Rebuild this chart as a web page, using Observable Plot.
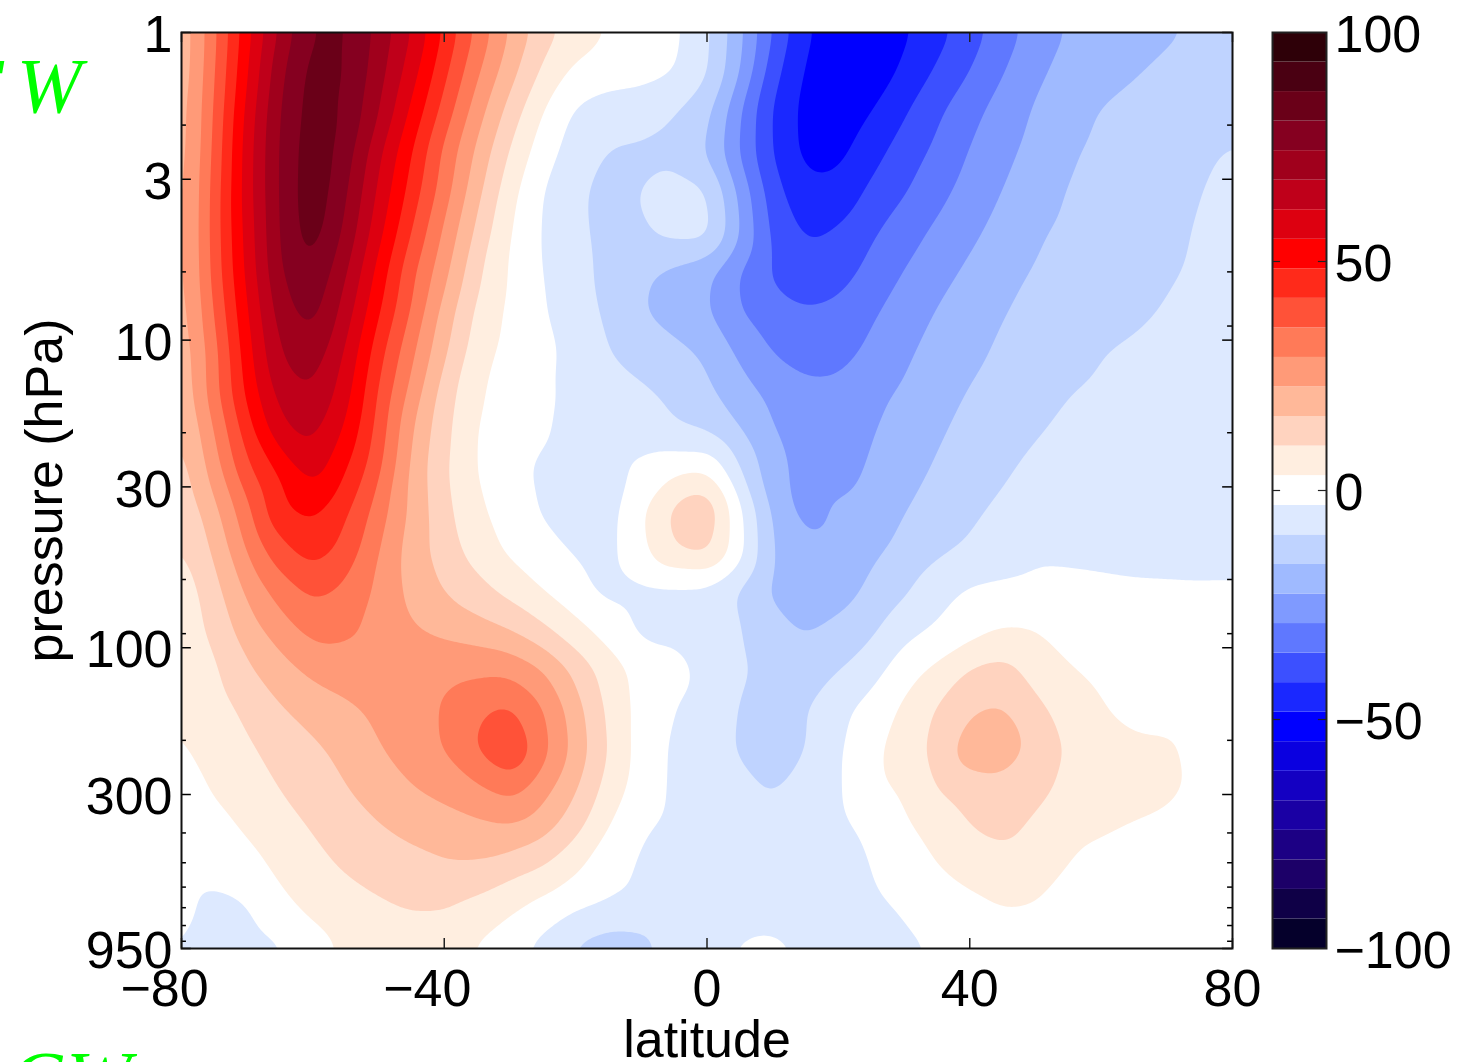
<!DOCTYPE html>
<html>
<head>
<meta charset="utf-8">
<script src="https://cdn.jsdelivr.net/npm/d3@7"></script>
<script src="https://cdn.jsdelivr.net/npm/@observablehq/plot@0.6"></script>
<style>
html,body{margin:0;padding:0;background:#fff;overflow:hidden}
#wrap{position:relative;width:1472px;height:1062px;overflow:hidden}
#wrap svg{position:absolute;top:0;background:transparent;overflow:hidden}
.gw{position:absolute;color:#00ff00;font:italic 78px "Liberation Serif",serif;white-space:nowrap;line-height:1}
</style>
</head>
<body>
<div id="wrap"></div>
<script>
// rows run from 1 hPa to 950 hPa evenly in log pressure; columns from 80S to 80N every 5 degrees
const r00=[17,34,52.7,69.2,81.5,81.7,72.4,61.7,47.3,34,22,12.6,6.9,2.8,1,-1.8,-7.9,-20.7,-36,-47.2,-53,-53.5,-49.5,-44.5,-38.5,-32.3,-26.3,-22,-20.3,-18.6,-16.9,-15.5,-14];
const r01=[17,35,54.5,73,83.5,81.2,70.8,58,43.6,30,18.6,8.3,1.5,-0.5,-1,-2.8,-8.3,-22.1,-39.6,-49.3,-54,-53.3,-46.8,-41,-35.5,-29.4,-23.6,-20.8,-18.7,-16.5,-15,-14,-13.5];
const r02=[18,36,57,75,84,80,68.3,53.5,39.3,25.4,13.5,3,-4.5,-6.5,-7,-9.5,-14,-28.5,-43,-50.5,-53.5,-48.3,-42.6,-36.6,-31,-26.3,-21.8,-18.6,-15.6,-14.5,-13.5,-12.5,-11];
const r03=[18,37,58.3,75.7,85,78,62.8,48.7,33.9,21.2,8.9,-0.3,-6.4,-10.3,-10.7,-10.7,-16.3,-29.6,-42.6,-50.5,-50.5,-44.3,-39,-34,-28.6,-24.3,-20.5,-16.8,-14.9,-13.4,-11.8,-10.4,-9.3];
const r04=[18.5,38,58.5,75.7,85.5,75.5,60,45.8,32,18,5.4,-3.4,-8.7,-11.5,-9.5,-7,-8,-24,-39.5,-47,-46.5,-40.4,-36,-31,-26.5,-22.4,-18.8,-15.7,-14.3,-12.8,-11.3,-9.8,-8.5];
const r05=[18.7,38.3,57.5,75.5,84.5,73,57,41.8,28,14.5,3.4,-3.8,-8.8,-11,-10.5,-7.5,-6.5,-22.4,-37.6,-43,-41.5,-36.5,-32,-27.7,-24,-20.3,-16.8,-15,-13.6,-12.2,-10.8,-9.3,-8];
const r06=[18.5,37.8,56.6,74.5,80.5,69,52.5,37,24.6,10.8,2.4,-3.3,-8.4,-10.8,-15,-18,-21,-29.6,-36.5,-40,-38.5,-33.5,-28.8,-25,-21.4,-18.1,-15.6,-14.2,-12.8,-11.4,-10.3,-9,-7.8];
const r07=[18,35.7,54.6,71.5,77.5,65,49,35,20,7.9,1.8,-2.7,-7,-10.7,-16,-19,-21.9,-29.1,-33,-35,-34,-30,-26.3,-22.2,-19.3,-16.3,-14.8,-13.4,-12.1,-10.7,-9.3,-8,-7];
const r08=[17.3,33,52.6,68.5,72.5,61,44.5,30.7,17.2,5.9,1.2,-1,-5.7,-9.7,-12.5,-14.5,-17.3,-24.1,-29.6,-32,-31.5,-27.7,-23.7,-20.5,-17.6,-15.2,-13.8,-11.9,-9.8,-9,-8.3,-7.5,-6.6];
const r09=[16.5,33,50.4,64.5,68,58,41.3,27.2,13,3.9,0.6,-2.3,-4.5,-6.7,-8.8,-11,-14.9,-20.3,-24.5,-27.5,-27.5,-24,-21.9,-18.7,-15.8,-13.8,-11.8,-9.8,-8.8,-8,-7.5,-6.8,-6.2];
const r10=[14.5,29,45.6,60,63.5,54,39.5,22.9,11.5,2.6,0.1,-2.7,-4.9,-6,-7.4,-8.8,-9.9,-16,-22.6,-25.5,-26,-23,-20.3,-16.9,-14.4,-12.4,-10,-8.8,-8,-7.2,-6.6,-6.2,-5.8];
const r11=[12.5,25.4,41,49.5,58.5,48.7,37,21,10.4,2.8,-1.4,-4.5,-5,-6,-1.5,2,3.5,-9.6,-20.5,-24.8,-25.8,-21.5,-18.4,-15.4,-12.9,-10.2,-8.5,-7.6,-7,-6.4,-6,-5.7,-5.4];
const r12=[10.7,20.6,34,48,50.5,43.3,32.6,21,11.5,4.5,-0.1,-4,-5.5,-6,2.3,12,16,-1.5,-17.8,-25.5,-21.5,-19.4,-16.4,-13.6,-10.7,-8.5,-7.5,-6.8,-6.3,-5.9,-5.6,-5.3,-5];
const r13=[8.5,17,29.6,40,45.5,40,29.3,19.5,12.9,7,1.9,-1.7,-4,-5.5,1.5,10,12.5,-0.5,-17,-21,-20.5,-17.5,-14.6,-11,-8.7,-6.8,-4.2,-4.3,-4.5,-4.6,-4.6,-4.6,-4.5];
const r14=[5.5,14,24,32,37.5,34.5,27.7,20.7,15.8,12,7.5,3,-1.5,-5.5,-5,-5,-5,-11,-17.8,-20.2,-19.2,-15,-10.7,-5.5,-2.5,-1.8,-1.5,-1.8,-2.2,-2.6,-2.7,-2.8,-2.8];
const r15=[5,11.8,19.4,26,31.5,30.1,27.5,22.9,21,19,16.1,11,5.4,0.5,-5,-4.2,-5,-9.5,-13.5,-17,-14.6,-10.8,-5.5,-2.3,0.5,3.5,3.2,0.5,-0.5,-1,-1.5,-2,-2.2];
const r16=[3,8.7,15.2,20,24.5,26,26.5,27,27,27.5,27.5,23,14.5,6.6,1,-1.5,-4.5,-8.8,-11.5,-12.5,-9.9,-6.5,1,4.5,10.5,12,7,3.6,1.5,0,-0.5,-1,-1.5];
const r17=[3,6.9,11,15.7,18.6,21.2,23.9,26.4,29.5,34,37,30,19,8.2,1,-3.5,-5,-10.5,-12,-10.2,-5,-0.5,4.2,10.5,15.5,17,11.2,7.4,3.7,1,0,-0.5,-1];
const r18=[2.5,5.5,8.9,11.8,15,18,22.2,25.7,29.2,36,43,31.5,20.5,9.2,0.5,-4.5,-5,-11,-13.5,-10,-4,1.8,6,11.8,20.5,21.5,13.5,9,7,5,5,0,-0.5];
const r19=[0,3.9,6.5,9.9,12.1,16,18.9,22.3,24.9,27.9,32,25,16.8,6.8,0,-4.5,-5,-7.5,-10.5,-7,-4.2,2,4,9.7,12.5,13.3,12,7.8,6.5,7.5,6.5,0,-1];
const r20=[-1.5,1,4,7.5,10,13,15.7,17.5,19,20.8,21.8,18.5,11.6,2.8,-3,-4.5,-5,-5.8,-7,-5.8,-4.8,-2,2,5.5,9.7,11.8,8,5.2,4,2,-0.5,-1,-1.5];
const r21=[-2,-1.5,0.5,4.5,7.5,10.3,12.5,14,15.2,14.8,12,9.3,4,-1.3,-4,-4.5,-5,-5,-5,-5,-4.8,-3.5,-0.5,3,5.5,6.5,5.5,3,0.5,-0.5,-1,-1.5,-1.5];
const r22=[-1.5,-5,-4,1.5,4.5,6.5,8.5,10,10,7.5,4.3,0.5,-3,-4.5,-4.6,-4.6,-4.5,-4.5,-4.5,-4.4,-4.4,-4.4,-3,-1,1.5,3.5,3,0.5,-0.5,-1,-1.5,-1.8,-2];
const r23=[-3,-6.5,-6,-4.5,0.8,4,5.6,6.2,5.5,2.5,-1.2,-5.5,-11,-14,-13,-5,-4,-3,-2.4,-3.6,-3.8,-4,-3.8,-3.1,-1,-1,-1,-1,-1,-3.1,-3.2,-2.8,-2.5];
const rows=[r00,r01,r02,r03,r04,r05,r06,r07,r08,r09,r10,r11,r12,r13,r14,r15,r16,r17,r18,r19,r20,r21,r22,r23];

const bandColors=["#05002b","#0f0047","#1c0068","#1c0084","#1a00a4","#1400c2","#0a00e0","#0000ff","#1a28ff","#3c50ff","#5f78ff","#7f9aff","#9fbaff","#bfd3ff","#dde9ff","#ffffff","#ffeee0","#ffd3bf","#ffb899","#ff9a78","#ff7a58","#ff5238","#ff2a1a","#ff0000","#dd0010","#bf001a","#a0001c","#850020","#6a0018","#4a0012","#2e0008"];
const bandEdges=[-100,-93.55,-87.1,-80.65,-74.2,-67.75,-61.3,-54.85,-48.4,-41.95,-35.5,-29.05,-22.6,-16.15,-9.7,-3.25,3.25,9.7,16.15,22.6,29.05,35.5,41.95,48.4,54.85,61.3,67.75,74.2,80.65,87.1,93.55,100];

const latTicksNeg=[-80,-40], latTicksPos=[0,40,80], latLabelsNeg=["\u221280","\u221240"];
const pMajor=[1,3,10,30,100,300,950];
const pMinor=[2,6,9,20,60,90,200,400,500,600,700,800,900];
const barTicks=[-100,-50,0,50,100], barLabels=["\u2212100","\u221250","0","50","100"], barInner=[-50,0,50];

const fontFamily='"Liberation Sans",Arial,sans-serif';
const thresholds=bandEdges.slice(0,-1);
const colorScale={type:"threshold",domain:bandEdges.slice(1,-1),range:bandColors};
const logTop=0,logBottom=Math.log10(950);           // the y scale is linear in log10(pressure)
const step=logBottom/(rows.length-1);
const lg=d=>Math.log10(d);
const cells=rows.flatMap((row,j)=>row.map((v,i)=>({lat:-80+5*i,logp:j*step,v})));

const main=Plot.plot({
  width:1472,height:1062,marginLeft:181,marginRight:240,marginTop:32,marginBottom:114,
  style:{fontFamily,background:"transparent",color:"#000"},
  x:{domain:[-80,80],axis:null},
  y:{domain:[logTop,logBottom],range:[32,948],axis:null},
  color:colorScale,
  marks:[
    Plot.contour(cells,{x:"lat",y:"logp",fill:"v",interpolate:"barycentric",pixelSize:2,blur:5,thresholds,clip:"frame"}),
    Plot.ruleY(pMajor,{y:lg,x1:-80,x2:-78.5,stroke:"#000",strokeWidth:1.5}),
    Plot.ruleY(pMajor,{y:lg,x1:80,x2:78.5,stroke:"#000",strokeWidth:1.5}),
    Plot.ruleY(pMinor,{y:lg,x1:-80,x2:-79.25,stroke:"#000",strokeWidth:1.5}),
    Plot.ruleY(pMinor,{y:lg,x1:80,x2:79.25,stroke:"#000",strokeWidth:1.5}),
    Plot.ruleX([...latTicksNeg,...latTicksPos],{y1:logTop,y2:logTop+0.0325,stroke:"#222",strokeWidth:1.5}),
    Plot.ruleX([...latTicksNeg,...latTicksPos],{y1:logBottom,y2:logBottom-0.0325,stroke:"#222",strokeWidth:1.5}),
    Plot.frame({stroke:"#111",strokeWidth:2}),
    Plot.axisY(pMajor.map(lg),{anchor:"left",tickSize:0,tickPadding:9,fontSize:52,dy:3,label:null,tickFormat:(d,i)=>String(pMajor[i])}),
    Plot.axisX(latTicksNeg,{anchor:"bottom",tickSize:0,tickPadding:21,fontSize:52,dx:-17,label:null,tickFormat:(d,i)=>latLabelsNeg[i]}),
    Plot.axisX(latTicksPos,{anchor:"bottom",tickSize:0,tickPadding:21,fontSize:52,label:null,tickFormat:d=>String(d)}),
    Plot.text(["pressure (hPa)"],{frameAnchor:"left",textAnchor:"middle",rotate:-90,dx:-136,fontSize:52,fill:"#000"}),
    Plot.text(["latitude"],{frameAnchor:"bottom",dy:108,fontSize:52,fill:"#000"})
  ]
});
main.style.left="0px";

const barBands=bandColors.map((c,i)=>({lo:bandEdges[i],hi:bandEdges[i+1]}));
const bar=Plot.plot({
  width:210,height:1062,marginLeft:10,marginRight:146,marginTop:32,marginBottom:114,
  style:{fontFamily,background:"transparent",color:"#000"},
  x:{domain:[0,1],axis:null},
  y:{domain:[-100,100],range:[948,32],axis:null},
  color:colorScale,
  marks:[
    Plot.rect(barBands,{x1:0,x2:1,y1:"lo",y2:"hi",fill:d=>(d.lo+d.hi)/2}),
    Plot.ruleY(barInner,{x1:0,x2:0.15,stroke:"#222",strokeWidth:1.2}),
    Plot.ruleY(barInner,{x1:1,x2:0.85,stroke:"#222",strokeWidth:1.2}),
    Plot.frame({stroke:"#222",strokeWidth:2}),
    Plot.axisY(barTicks,{anchor:"right",tickSize:0,tickPadding:8,fontSize:52,dy:3,label:null,tickFormat:(d,i)=>barLabels[i]})
  ]
});
bar.style.left="1262px";

const wrap=document.getElementById("wrap");
wrap.append(main,bar);
for(const [txt,left,topPx,gap] of [["FW",-44,47,"13px"],["GW",10,1040,"0"]]){
  const s=document.createElement("div");
  s.className="gw";s.textContent=txt;s.style.left=left+"px";s.style.top=topPx+"px";s.style.letterSpacing=gap;
  wrap.append(s);
}
</script>
</body>
</html>
